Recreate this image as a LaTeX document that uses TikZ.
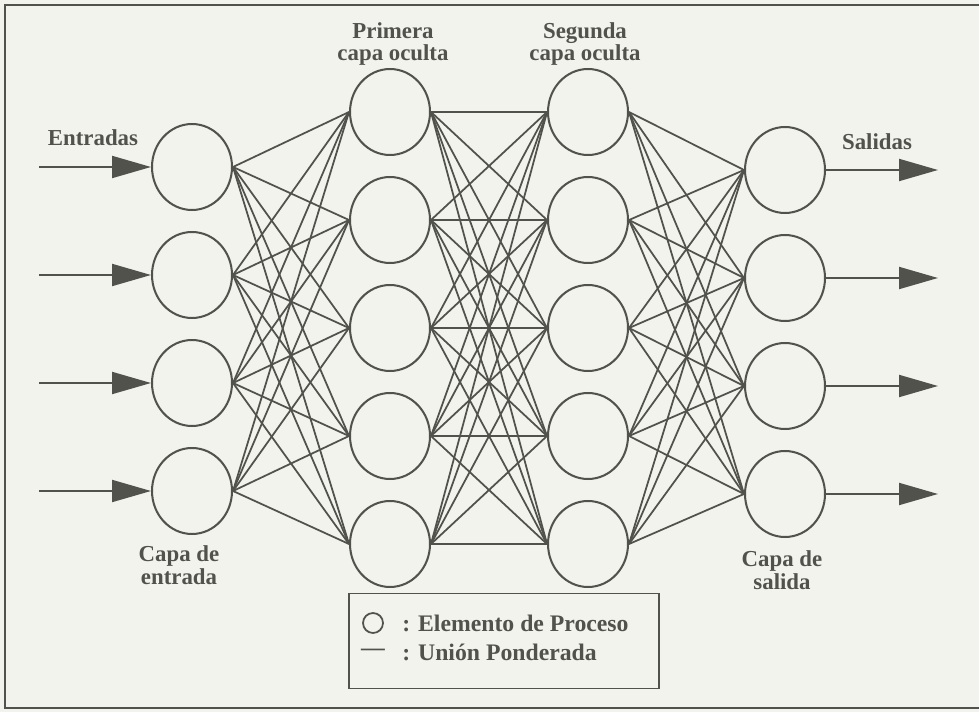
\documentclass[tikz,border=0pt]{standalone}
\usepackage{fontspec}
\setmainfont{Liberation Serif}
\usetikzlibrary{%
	arrows.meta,%
	positioning,%
	shapes.geometric,%
}
\definecolor{cline}{RGB}{82, 82, 76}
\definecolor{cpaper}{RGB}{243, 243, 238}
\tikzset{
	>={Triangle[length=0.78cm, width=0.44cm]},%
	nodes={align=center},%
	neuron/.style={%
			draw=cline,%
			ellipse,%
			line width=1.15pt,%
			minimum width=1.6cm,%
			minimum height=1.72cm,%
			inner sep=0},%
	layertext/.style={%
			font={\fontsize{13}{13}\selectfont\bfseries},%
			text=cline,%
			inner sep=0},%
	legendtext/.style={%
			font={\fontsize{13.5}{13.5}\selectfont\bfseries},%
			text=cline,%
			inner sep=0},%
	link/.style={%
			draw=cline,%
			line width=1pt},%
	flow/.style={%
			->,%
			draw=cline,%
			line width=1.1pt},%
}

\begin{document}
\begin{tikzpicture}[x=0.02cm, y=-0.02cm, node distance=0.4cm]%
	\useasboundingbox[fill=cpaper] (0,0) rectangle (979,712);
	\draw[cline, line width=1.3pt] (979,5) -- (5,5) -- (5,708) -- (979,708);

	% capa de entrada
	\node[neuron] (in1) at (192,167) {};
	\node[neuron, below=of in1] (in2) {};
	\node[neuron, below=of in2] (in3) {};
	\node[neuron, below=of in3] (in4) {};

	% primera capa oculta
	\node[neuron] (ha1) at (390,112) {};
	\node[neuron, below=of ha1] (ha2) {};
	\node[neuron, below=of ha2] (ha3) {};
	\node[neuron, below=of ha3] (ha4) {};
	\node[neuron, below=of ha4] (ha5) {};

	% segunda capa oculta
	\node[neuron] (hb1) at (588,112) {};
	\node[neuron, below=of hb1] (hb2) {};
	\node[neuron, below=of hb2] (hb3) {};
	\node[neuron, below=of hb3] (hb4) {};
	\node[neuron, below=of hb4] (hb5) {};

	% capa de salida
	\node[neuron] (out1) at (785,170) {};
	\node[neuron, below=of out1] (out2) {};
	\node[neuron, below=of out2] (out3) {};
	\node[neuron, below=of out3] (out4) {};

	% uniones ponderadas
	\foreach \a in {1,...,4}
		\foreach \b in {1,...,5}
			\draw[link] (in\a.east) -- (ha\b.west);
	\foreach \a in {1,...,5}
		\foreach \b in {1,...,5}
			\draw[link] (ha\a.east) -- (hb\b.west);
	\foreach \a in {1,...,5}
		\foreach \b in {1,...,4}
			\draw[link] (hb\a.east) -- (out\b.west);

	% entradas y salidas
	\foreach \i in {1,...,4} {
		\coordinate[left=2.24cm of in\i] (x\i);
		\coordinate[right=2.24cm of out\i] (y\i);
		\draw[flow] (x\i) -- (in\i.west);
		\draw[flow] (out\i.east) -- (y\i);
	}

	\node[layertext] (entradas) at (93,138) {Entradas};
	\node[layertext] (salidas) at (877,142) {Salidas};
	\node[layertext] (primera) at (393,44) {Primera\\capa oculta};
	\node[layertext] (segunda) at (585,44) {Segunda\\capa oculta};
	\node[layertext] (capaent) at (179,565) {Capa de\\entrada};
	\node[layertext] (capasal) at (782,570) {Capa de\\salida};

	% leyenda
	\node[draw=cline, line width=1.1pt, minimum width=6.2cm, minimum height=1.9cm, inner sep=0] (legend) at (504,641) {};
	\node[draw=cline, circle, line width=1pt, minimum size=0.4cm, inner sep=0] (lgpe) at (373,623) {};
	\node[legendtext, anchor=west] (lgpetext) at (402,623) {: Elemento de Proceso};
	\node[legendtext] (lgup) at (373,652) {—};
	\node[legendtext, anchor=west] (lguptext) at (402,652) {: Unión Ponderada};
\end{tikzpicture}
\end{document}
